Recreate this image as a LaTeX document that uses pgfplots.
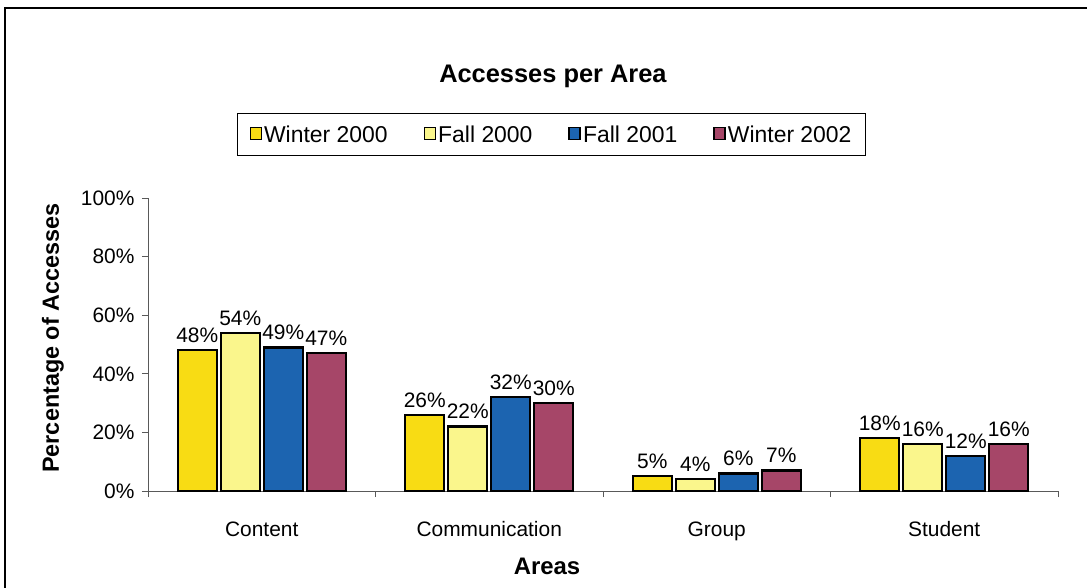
\documentclass[border=0pt]{standalone}
\usepackage{pgfplots}
\pgfplotsset{compat=1.18}
\usepackage{fontspec}
\setmainfont{Liberation Sans}
\definecolor{wA}{RGB}{248,220,20}
\definecolor{fA}{RGB}{250,246,140}
\definecolor{fB}{RGB}{28,100,176}
\definecolor{wB}{RGB}{166,70,104}
\newcommand{\fs}[1]{\fontsize{#1}{#1}\selectfont}
\pgfplotsset{lg/.style={legend image code/.code={\draw[##1,line width=1.6bp] (0bp,-5bp) rectangle (11bp,7bp);}}}
\begin{document}
\begin{tikzpicture}
\useasboundingbox (-148bp,-97bp) rectangle (939bp,491bp);
\draw[line width=1.4bp] (-143bp,-97bp) -- (-143bp,483bp) -- (939bp,483bp);
\begin{axis}[name=ax, at={(0,0)}, anchor=south west,
  scale only axis, width=910bp, height=293bp,
  xmin=-0.5, xmax=3.5, ymin=0, ymax=100,
  ybar=4bp, bar width=39bp,
  axis x line=bottom, axis y line=left,
  axis line style={draw=gray!70!black, line width=0.8bp, -},
  xtick={0,1,2,3}, xticklabels={Content,Communication,Group,Student},
  major x tick style={draw=none},
  minor xtick={-0.5,0.5,1.5,2.5,3.5},
  minor x tick style={draw=gray!70!black, line width=0.8bp},
  ytick={0,20,...,100}, yticklabel={\pgfmathprintnumber{\tick}\%},
  y tick style={draw=gray!70!black, line width=0.8bp},
  tick align=outside, major tick length=6bp, minor tick length=6bp,
  /pgf/number format/assume math mode=true,
  xticklabel style={yshift=-21bp, font=\fs{21}},
  yticklabel style={font=\fs{21}, xshift=-4bp},
  nodes near coords={\pgfmathprintnumber{\pgfplotspointmeta}\%},
  nodes near coords style={font=\fs{21}, black, yshift=3bp},
  ylabel={Percentage of Accesses},
  ylabel style={font=\bfseries\fs{23.5}, at={(axis description cs:-0.1044,0.522)}, anchor=center},
  xlabel={Areas},
  xlabel style={font=\bfseries\fs{24}, at={(axis description cs:0.4385,-0.259)}, anchor=center},
  title={Accesses per Area},
  title style={font=\bfseries\fs{25.5}, at={(axis description cs:0.445,1.393)}, anchor=center},
  legend columns=4,
  legend style={at={(axis description cs:0.4434,1.2167)}, anchor=center,
    draw=black, line width=1bp, font=\fs{23}, inner xsep=12bp, inner ysep=10bp,
    /tikz/every even column/.append style={column sep=34bp}},
]
\addplot[lg, fill=wA, draw=black, line width=2.2bp] coordinates {(0,48) (1,26) (2,5) (3,18)};
\addplot[lg, fill=fA, draw=black, line width=2.2bp] coordinates {(0,54) (1,22) (2,4) (3,16)};
\addplot[lg, fill=fB, draw=black, line width=2.2bp] coordinates {(0,49) (1,32) (2,6) (3,12)};
\addplot[lg, fill=wB, draw=black, line width=2.2bp] coordinates {(0,47) (1,30) (2,7) (3,16)};
\legend{Winter 2000,Fall 2000,Fall 2001,Winter 2002}
\end{axis}
\end{tikzpicture}
\end{document}
